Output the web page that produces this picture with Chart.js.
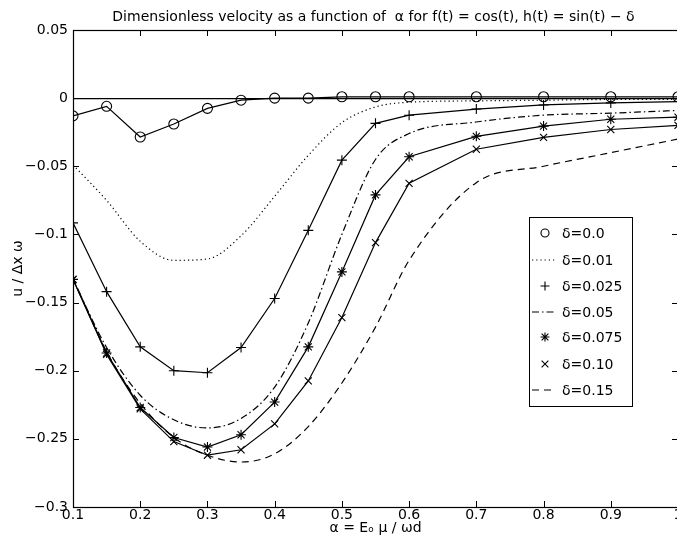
<!DOCTYPE html>
<html>
<head>
<meta charset="utf-8">
<script src="https://cdn.jsdelivr.net/npm/chart.js@4/dist/chart.umd.min.js"></script>
<style>
  html, body { margin: 0; padding: 0; background: #fff; overflow: hidden; }
  #wrap { width: 677px; height: 546px; overflow: hidden; position: relative; }
  canvas { display: block; }
</style>
</head>
<body>
<div id="wrap"><canvas id="c" width="700" height="546" style="width:700px;height:546px"></canvas></div>
<script>
// ---- data ----
const alpha = [0.1, 0.15, 0.2, 0.25, 0.3, 0.35, 0.4, 0.45, 0.5, 0.55, 0.6, 0.7, 0.8, 0.9, 1.0];
const seriesLabels = ['δ=0.0', 'δ=0.01', 'δ=0.025', 'δ=0.05', 'δ=0.075', 'δ=0.10', 'δ=0.15'];
const d000 = [-0.013, -0.006, -0.0285, -0.019, -0.0075, -0.0015, 0, 0, 0.001, 0.001, 0.001, 0.001, 0.001, 0.001, 0.001];
const d001 = [-0.049, -0.075, -0.105, -0.119, -0.118, -0.101, -0.072, -0.042, -0.018, -0.0065, -0.003, -0.002, -0.0015, -0.001, -0.001];
const d0025 = [-0.0915, -0.142, -0.1825, -0.200, -0.2015, -0.183, -0.147, -0.097, -0.0455, -0.0185, -0.0125, -0.008, -0.005, -0.0035, -0.0025];
const d005 = [-0.133, -0.183, -0.218, -0.236, -0.242, -0.235, -0.212, -0.165, -0.100, -0.045, -0.026, -0.0175, -0.0125, -0.011, -0.009];
const d0075 = [-0.133, -0.187, -0.227, -0.249, -0.256, -0.247, -0.223, -0.1825, -0.1275, -0.071, -0.043, -0.028, -0.0205, -0.0155, -0.014];
const d010 = [-0.133, -0.188, -0.228, -0.252, -0.262, -0.258, -0.239, -0.2075, -0.161, -0.106, -0.0625, -0.0375, -0.0288, -0.023, -0.020];
const d015 = [-0.132, -0.186, -0.224, -0.249, -0.262, -0.267, -0.261, -0.241, -0.209, -0.168, -0.119, -0.062, -0.050, -0.040, -0.030];

const xTickValues = [0.1, 0.2, 0.3, 0.4, 0.5, 0.6, 0.7, 0.8, 0.9, 1.0];
const xTickLabels = ['0.1', '0.2', '0.3', '0.4', '0.5', '0.6', '0.7', '0.8', '0.9', '1'];
const yTickValues = [0.05, 0, -0.05, -0.1, -0.15, -0.2, -0.25, -0.3];
const yTickLabels = ['0.05', '0', '\u22120.05', '\u22120.1', '\u22120.15', '\u22120.2', '\u22120.25', '\u22120.3'];

const titleText = 'Dimensionless velocity as a function of  \u03b1 for f(t) = cos(t), h(t) = sin(t) \u2212 \u03b4';
const xTitle = '\u03b1 = E\u2092 \u03bc / \u03c9d';
const yTitle = 'u / \u0394x \u03c9';

const FONT = '"DejaVu Sans", "Liberation Sans", Arial, sans-serif';

function pts(arr) { return arr.map((v, i) => ({ x: alpha[i], y: v })); }

const styles = [
  { pointStyle: 'circle', radius: 5, dash: [], marker: true },
  { pointStyle: false, radius: 0, dash: [1.2, 3], marker: false, smooth: true },
  { pointStyle: 'cross', radius: 5, dash: [], marker: true },
  { pointStyle: false, radius: 0, dash: [7, 3, 1.5, 3], marker: false, smooth: true },
  { pointStyle: 'star', radius: 5, dash: [], marker: true },
  { pointStyle: 'crossRot', radius: 5, dash: [], marker: true },
  { pointStyle: false, radius: 0, dash: [7, 5], marker: false, smooth: true }
];
const allData = [d000, d001, d0025, d005, d0075, d010, d015];

const datasets = allData.map((arr, i) => {
  const s = styles[i];
  return {
    label: seriesLabels[i],
    data: pts(arr),
    borderColor: '#000',
    backgroundColor: 'rgba(0,0,0,0)',
    borderWidth: 1.2,
    borderDash: s.dash,
    pointStyle: s.pointStyle || 'circle',
    pointRadius: s.radius,
    pointHoverRadius: s.radius,
    pointBorderColor: '#000',
    pointBackgroundColor: 'rgba(0,0,0,0)',
    pointBorderWidth: 1.1,
    tension: 0,
    cubicInterpolationMode: s.smooth ? 'monotone' : 'default',
    fill: false
  };
});

const framePlugin = {
  id: 'frame',
  beforeDatasetsDraw(chart) {
    const { ctx, chartArea: a, scales } = chart;
    ctx.save();
    ctx.strokeStyle = '#000';
    ctx.lineWidth = 1;
    const L = 6;
    ctx.beginPath();
    xTickValues.forEach(v => {
      const x = Math.round(scales.x.getPixelForValue(v)) + 0.5;
      ctx.moveTo(x, a.bottom); ctx.lineTo(x, a.bottom - L);
      ctx.moveTo(x, a.top); ctx.lineTo(x, a.top + L);
    });
    yTickValues.forEach(v => {
      const y = Math.round(scales.y.getPixelForValue(v)) + 0.5;
      ctx.moveTo(a.left, y); ctx.lineTo(a.left + L, y);
      ctx.moveTo(a.right, y); ctx.lineTo(a.right - L, y);
    });
    ctx.stroke();
    ctx.restore();
  },
  afterDraw(chart) {
    const { ctx, chartArea: a } = chart;
    ctx.save();
    ctx.strokeStyle = '#000';
    ctx.lineWidth = 1.2;
    ctx.strokeRect(Math.round(a.left) + 0.5, Math.round(a.top) + 0.5, Math.round(a.right - a.left), Math.round(a.bottom - a.top));
    // title
    ctx.fillStyle = '#000';
    ctx.font = '14px ' + FONT;
    ctx.textAlign = 'center';
    ctx.textBaseline = 'middle';
    ctx.fillText(titleText, (a.left + a.right) / 2 - 2, 17);
    // legend
    const bx = 529, by = 217, bw = 103, bh = 189;
    ctx.fillStyle = '#fff';
    ctx.fillRect(bx, by, bw, bh);
    ctx.lineWidth = 1;
    ctx.strokeStyle = '#000';
    ctx.strokeRect(bx + 0.5, by + 0.5, bw, bh);
    const rowY = [233, 260, 286, 312, 337, 364, 390];
    chart.data.datasets.forEach((ds, i) => {
      const y = rowY[i];
      const s = styles[i];
      ctx.strokeStyle = '#000';
      ctx.lineWidth = 1.1;
      if (s.marker) {
        const cx = 545, r = 4.5;
        ctx.beginPath();
        ctx.setLineDash([]);
        if (s.pointStyle === 'circle') {
          ctx.arc(cx, y, r - 0.5, 0, Math.PI * 2);
        } else if (s.pointStyle === 'cross') {
          ctx.moveTo(cx - r, y); ctx.lineTo(cx + r, y);
          ctx.moveTo(cx, y - r); ctx.lineTo(cx, y + r);
        } else if (s.pointStyle === 'crossRot') {
          const q = r * 0.75;
          ctx.moveTo(cx - q, y - q); ctx.lineTo(cx + q, y + q);
          ctx.moveTo(cx - q, y + q); ctx.lineTo(cx + q, y - q);
        } else if (s.pointStyle === 'star') {
          const q = r * 0.75;
          ctx.moveTo(cx - r, y); ctx.lineTo(cx + r, y);
          ctx.moveTo(cx, y - r); ctx.lineTo(cx, y + r);
          ctx.moveTo(cx - q, y - q); ctx.lineTo(cx + q, y + q);
          ctx.moveTo(cx - q, y + q); ctx.lineTo(cx + q, y - q);
        }
        ctx.stroke();
      } else {
        ctx.beginPath();
        ctx.setLineDash(s.dash);
        ctx.moveTo(532, y); ctx.lineTo(556, y);
        ctx.stroke();
        ctx.setLineDash([]);
      }
      ctx.fillStyle = '#000';
      ctx.font = '14px ' + FONT;
      ctx.textAlign = 'left';
      ctx.textBaseline = 'middle';
      ctx.fillText(ds.label, 562, y + 1);
    });
    ctx.restore();
  }
};

new Chart(document.getElementById('c'), {
  type: 'line',
  data: { datasets },
  options: {
    responsive: false,
    animation: false,
    events: [],
    layout: { padding: { left: 0, right: 22, top: 30, bottom: 0 } },
    plugins: { legend: { display: false }, title: { display: false }, tooltip: { enabled: false } },
    scales: {
      x: {
        type: 'linear',
        min: 0.1, max: 1.0,
        afterBuildTicks: s => { s.ticks = xTickValues.map(v => ({ value: v })); },
        afterFit: s => { s.height = 39; },
        grid: { display: false, drawTicks: false },
        border: { display: false },
        ticks: {
          color: '#000', padding: 0,
          font: { family: FONT, size: 14 },
          maxRotation: 0, autoSkip: false,
          callback: v => { const i = xTickValues.findIndex(t => Math.abs(t - v) < 1e-9); return i >= 0 ? xTickLabels[i] : ''; }
        },
        title: { display: true, text: xTitle, color: '#000', font: { family: FONT, size: 14 }, padding: { top: 0, bottom: 9.5 } }
      },
      y: {
        type: 'linear',
        min: -0.3, max: 0.05,
        afterBuildTicks: s => { s.ticks = yTickValues.map(v => ({ value: v })); },
        afterFit: s => { s.width = 73; },
        grid: {
          drawTicks: false,
          lineWidth: 1.2,
          color: c => (c.tick && Math.abs(c.tick.value) < 1e-9) ? '#000' : 'rgba(0,0,0,0)'
        },
        border: { display: false },
        ticks: {
          color: '#000', padding: 5,
          font: { family: FONT, size: 14 },
          autoSkip: false,
          callback: v => { const i = yTickValues.findIndex(t => Math.abs(t - v) < 1e-9); return i >= 0 ? yTickLabels[i] : ''; }
        },
        title: { display: true, text: yTitle, color: '#000', font: { family: FONT, size: 14 }, padding: { top: 10, bottom: 0 } }
      }
    }
  },
  plugins: [framePlugin]
});
</script>
</body>
</html>
